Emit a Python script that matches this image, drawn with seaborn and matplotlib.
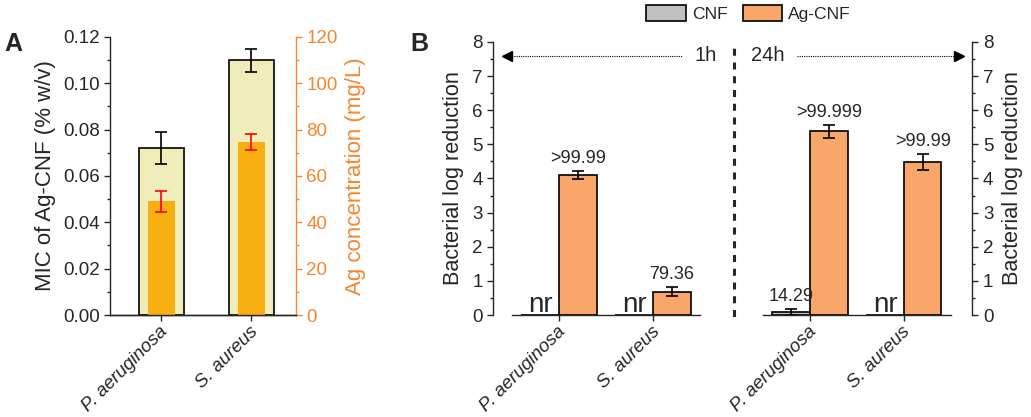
import matplotlib
matplotlib.use("Agg")
import matplotlib.pyplot as plt
import matplotlib.transforms as mtransforms
import numpy as np
import pandas as pd
import seaborn as sns
from matplotlib.ticker import MultipleLocator, AutoMinorLocator, FormatStrFormatter

strains = ["P. aeruginosa", "S. aureus"]

# panel A: MIC of Ag-CNF and matching Ag concentration
mic = [0.072, 0.110]
mic_err = [0.007, 0.005]
ag_conc = [49.0, 74.7]
ag_conc_err = [4.7, 3.5]

# panel B: bacterial log reduction
samples = ["CNF", "Ag-CNF"]
red_1h = {"CNF": [0.0, 0.0], "Ag-CNF": [4.10, 0.68]}
err_1h = {"CNF": [0.0, 0.0], "Ag-CNF": [0.11, 0.13]}
lab_1h = {"CNF": ["nr", "nr"], "Ag-CNF": [">99.99", "79.36"]}
red_24h = {"CNF": [0.09, 0.0], "Ag-CNF": [5.38, 4.49]}
err_24h = {"CNF": [0.09, 0.0], "Ag-CNF": [0.18, 0.23]}
lab_24h = {"CNF": ["14.29", "nr"], "Ag-CNF": [">99.999", ">99.99"]}

sns.set_theme(style="ticks")
plt.rcParams["font.family"] = ["Liberation Sans", "DejaVu Sans"]
plt.rcParams["axes.linewidth"] = 1.0
plt.rcParams["xtick.major.width"] = 1.0
plt.rcParams["ytick.major.width"] = 1.0
plt.rcParams["ytick.minor.width"] = 1.0
plt.rcParams["xtick.major.size"] = 4
plt.rcParams["ytick.major.size"] = 4
plt.rcParams["ytick.minor.size"] = 2.5

TICK = 13.5
XTICK = 13.5
LABEL = 16

fig = plt.figure(figsize=(10.31, 4.17), dpi=100)
shift = mtransforms.ScaledTranslation(4 / 100, 0, fig.dpi_scale_trans)


def slant_labels(ax):
    ax.set_xticks(range(len(strains)))
    ax.set_xticklabels(strains, rotation=45, ha="right", va="center",
                       rotation_mode="anchor", style="italic")
    ax.tick_params(axis="x", labelsize=XTICK, pad=6)
    for t in ax.get_xticklabels():
        t.set_transform(t.get_transform() + shift)


# ---------------- panel A ----------------
axA = fig.add_axes([0.1067, 0.2446, 0.1804, 0.6667])
axA2 = axA.twinx()
dfA = pd.DataFrame({"strain": strains, "mic": mic, "ag": ag_conc})

sns.barplot(data=dfA, x="strain", y="mic", color="#F1EDBA", edgecolor="black",
            linewidth=1.2, width=0.5, ax=axA, saturation=1)
sns.barplot(data=dfA, x="strain", y="ag", color="#F8AF12", edgecolor="none",
            width=0.3, ax=axA2, saturation=1)
xs = [p.get_x() + p.get_width() / 2 for p in axA.patches]
axA.errorbar(xs, mic, yerr=mic_err, fmt="none", ecolor="black", elinewidth=1.2,
             capsize=4, capthick=1.2)
xs2 = [p.get_x() + p.get_width() / 2 for p in axA2.patches]
axA2.errorbar(xs2, ag_conc, yerr=ag_conc_err, fmt="none", ecolor="#FF0000",
              elinewidth=1.2, capsize=4, capthick=1.2)

orange = "#F7862F"
axA.set_xlim(-0.57, 1.5)
axA.set_ylim(0, 0.12)
axA2.set_ylim(0, 120)
axA.yaxis.set_major_locator(MultipleLocator(0.02))
axA.yaxis.set_minor_locator(AutoMinorLocator(2))
axA2.yaxis.set_major_locator(MultipleLocator(20))
axA2.yaxis.set_minor_locator(AutoMinorLocator(2))
axA.set_ylabel("MIC of Ag-CNF (% w/v)", fontsize=LABEL, labelpad=5)
axA2.set_ylabel("Ag concentration (mg/L)", fontsize=LABEL, color=orange, labelpad=5)
axA.set_xlabel("")
axA2.set_xlabel("")
axA.tick_params(axis="y", labelsize=TICK)
axA2.tick_params(axis="y", which="both", labelsize=TICK, colors=orange)
slant_labels(axA)
axA.spines["top"].set_visible(False)
axA2.spines["top"].set_visible(False)
axA2.spines["left"].set_visible(False)
axA2.spines["right"].set_color(orange)
axA.spines["right"].set_visible(False)
axA.yaxis.set_major_formatter(FormatStrFormatter("%.2f"))
fig.text(0.004, 0.895, "A", fontsize=18, fontweight="bold", va="center")


# ---------------- panel B ----------------
def log_panel(ax, red, err, lab, xlim):
    df = pd.DataFrame([
        {"strain": s, "sample": smp, "val": red[smp][i]}
        for smp in samples for i, s in enumerate(strains)
    ])
    sns.barplot(data=df, x="strain", y="val", hue="sample", hue_order=samples,
                palette={"CNF": "#C0C0C0", "Ag-CNF": "#F9A66A"}, saturation=1,
                edgecolor="black", linewidth=1.2, width=0.8, ax=ax)
    for cont, smp in zip(ax.containers, samples):
        for p, v, e, t in zip(cont.patches, red[smp], err[smp], lab[smp]):
            xc = p.get_x() + p.get_width() / 2
            if t == "nr":
                ax.annotate(t, (xc, 0), xytext=(0, 2.5), textcoords="offset points",
                            ha="center", va="baseline", fontsize=20)
                continue
            ax.errorbar(xc, v, yerr=e, fmt="none", ecolor="black",
                        elinewidth=1.2, capsize=4, capthick=1.2)
            ax.annotate(t, (xc, v + e), xytext=(0, 3), textcoords="offset points",
                        ha="center", va="bottom", fontsize=13)
    ax.set_xlim(*xlim)
    ax.set_ylim(0, 8)
    ax.yaxis.set_major_locator(MultipleLocator(1))
    ax.yaxis.set_minor_locator(AutoMinorLocator(2))
    ax.set_xlabel("")
    ax.set_ylabel("")
    slant_labels(ax)
    ax.tick_params(axis="y", labelsize=TICK)
    ax.spines["bottom"].set_bounds(-0.5, 1.5)
    ax.spines["top"].set_visible(False)


axB1 = fig.add_axes([0.4782, 0.2446, 0.2338, 0.6547])
axB2 = fig.add_axes([0.7119, 0.2446, 0.2313, 0.6547])
log_panel(axB1, red_1h, err_1h, lab_1h, (-0.70, 1.86))
log_panel(axB2, red_24h, err_24h, lab_24h, (-0.81, 1.73))

handles, labels = axB1.get_legend_handles_labels()
axB1.get_legend().remove()
axB2.get_legend().remove()

axB1.spines["right"].set_visible(False)
axB1.set_ylabel("Bacterial log reduction", fontsize=15.6, labelpad=6)

axB2.spines["left"].set_linestyle((0, (1.3, 3.2)))
axB2.spines["left"].set_linewidth(2.2)
axB2.yaxis.tick_right()
axB2.yaxis.set_label_position("right")
axB2.tick_params(axis="y", which="both", left=False, right=True)
axB2.set_ylabel("Bacterial log reduction", fontsize=15.6, labelpad=6)

# time arrows
yarr = 7.6
axB1.plot([-0.57, 1.31], [yarr, yarr], ls=(0, (1, 1)), lw=0.8, color="black")
axB1.plot(-0.55, yarr, marker="<", ms=7, color="black", clip_on=False)
axB1.text(1.56, yarr, "1h", ha="center", va="center", fontsize=14.5)
axB2.plot([-0.14, 1.61], [yarr, yarr], ls=(0, (1, 1)), lw=0.8, color="black")
axB2.plot(1.59, yarr, marker=">", ms=7, color="black", clip_on=False)
axB2.text(-0.45, yarr, "24h", ha="center", va="center", fontsize=14.5)

fig.legend(handles, labels, loc="center", bbox_to_anchor=(0.726, 0.968),
           ncol=2, frameon=False, fontsize=12.6, handlelength=2.26,
           handleheight=1.1, columnspacing=0.87, handletextpad=0.35,
           borderpad=0.1)
fig.text(0.398, 0.895, "B", fontsize=18, fontweight="bold", va="center")

fig.savefig("out.png", dpi=100)
